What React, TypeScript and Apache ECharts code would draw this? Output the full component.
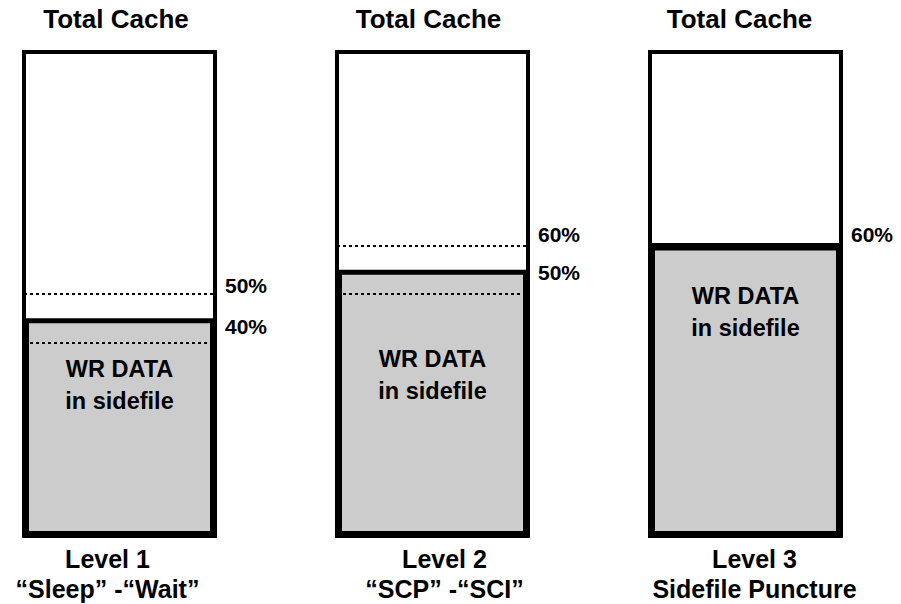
import React, { useEffect, useRef } from "react";
import * as echarts from "echarts";

// ---- data ----
const topTitle = "Total Cache";
const levelNames = ["Level 1", "Level 2", "Level 3"];
const levelSubtitles = ["\u201CSleep\u201D -\u201CWait\u201D", "\u201CSCP\u201D -\u201CSCI\u201D", "Sidefile Puncture"];
const wrDataPct = [45, 55, 60];
const thresholdPct = [[50, 40], [60, 50], [60]];
const fillLabel = "WR DATA\nin sidefile";

// ---- styling (not data) ----
const labelLift = [[8.5, 16], [11.6, 21.5], [11.6]];
const fillLabelDistance = [34.5, 73, 34.5];
const captionShift = [-12, 12, 9];
const titleShift = [-3.5, -4, -6];

const FONT = "'Liberation Sans', Arial, sans-serif";
const GRID_LEFT0 = 24;
const GRID_STEP = 313;
const GRID_TOP = 52;
const GRID_W = 191;
const GRID_H = 484;

export default function App() {
  const ref = useRef<HTMLDivElement>(null);

  useEffect(() => {
    if (!ref.current) return;
    const chart = echarts.init(ref.current, undefined, { renderer: "svg" });

    const grids: any[] = [];
    const xAxes: any[] = [];
    const yAxes: any[] = [];
    const series: any[] = [];
    const titles: any[] = [];

    levelNames.forEach((name, i) => {
      const left = GRID_LEFT0 + GRID_STEP * i;
      grids.push({
        left,
        top: GRID_TOP,
        width: GRID_W,
        height: GRID_H,
        show: true,
        borderColor: "#000",
        borderWidth: 4,
        backgroundColor: "#fff",
        containLabel: false,
      });
      const sh = captionShift[i];
      xAxes.push({
        type: "category",
        gridIndex: i,
        data: [name + "\n" + levelSubtitles[i]],
        axisLine: { show: false },
        axisTick: { show: false },
        splitLine: { show: false },
        axisLabel: {
          margin: 8,
          fontFamily: FONT,
          fontWeight: "bold",
          fontSize: 25,
          lineHeight: 30,
          color: "#000",
          padding: sh >= 0 ? [0, 0, 0, 2 * sh] : [0, -2 * sh, 0, 0],
        },
      });
      yAxes.push({
        type: "value",
        gridIndex: i,
        min: 0,
        max: 100,
        show: false,
        splitLine: { show: false },
      });
      titles.push({
        text: topTitle,
        left: left + GRID_W / 2 + titleShift[i],
        textAlign: "center",
        top: 6,
        padding: 0,
        textStyle: {
          fontFamily: FONT,
          fontWeight: "bold",
          fontSize: 26,
          lineHeight: 26,
          color: "#000",
        },
      });

      const fill = wrDataPct[i];
      const markData = thresholdPct[i].map((v, j) => {
        const solid = v === fill;
        return {
          yAxis: v,
          lineStyle: solid
            ? { type: "solid", width: 5, color: "#000" }
            : { type: [3, 3], width: 2, color: "#000" },
          label: {
            show: true,
            position: "end",
            distance: 10,
            formatter: v + "%",
            fontFamily: FONT,
            fontWeight: "bold",
            fontSize: 21,
            color: "#000",
            verticalAlign: "bottom",
            align: "left",
            lineHeight: 2 * labelLift[i][j],
          },
        };
      });

      series.push({
        type: "bar",
        xAxisIndex: i,
        yAxisIndex: i,
        barWidth: "100%",
        barCategoryGap: "0%",
        silent: true,
        z: 3,
        itemStyle: {
          color: "#cccccc",
          borderColor: "#000",
          borderWidth: 5,
        },
        label: {
          show: true,
          position: "insideTop",
          distance: fillLabelDistance[i],
          formatter: fillLabel,
          fontFamily: FONT,
          fontWeight: "bold",
          fontSize: 23.5,
          lineHeight: 32,
          color: "#000",
        },
        data: [fill],
        markLine: {
          silent: true,
          symbol: ["none", "none"],
          z: 5,
          data: markData,
        },
      });
    });

    chart.setOption({
      animation: false,
      backgroundColor: "#fff",
      title: titles,
      grid: grids,
      xAxis: xAxes,
      yAxis: yAxes,
      series,
    });

    return () => chart.dispose();
  }, []);

  return (
    <div
      ref={ref}
      style={{ position: "absolute", left: 0, top: 0, width: 901, height: 604 }}
    />
  );
}
